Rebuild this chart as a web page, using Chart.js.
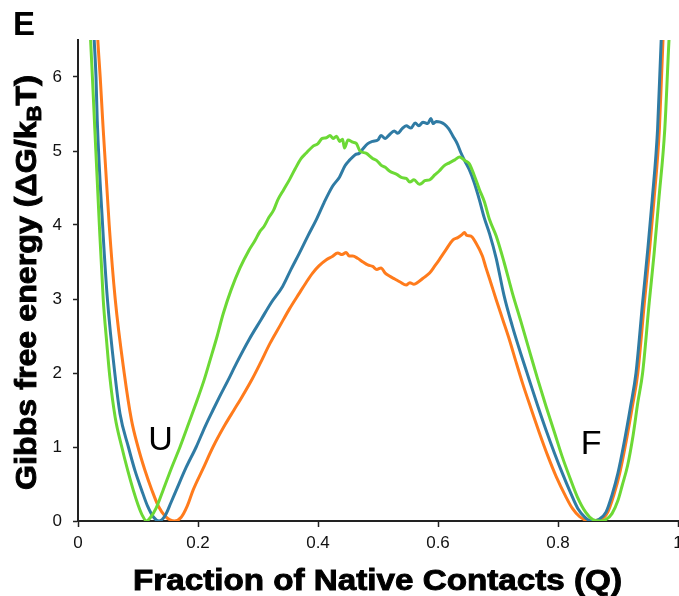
<!DOCTYPE html>
<html>
<head>
<meta charset="utf-8">
<title>Free energy profile</title>
<script src="https://cdn.jsdelivr.net/npm/chart.js@4/dist/chart.umd.min.js"></script>
<style>
    html, body { margin: 0; padding: 0; background: #fff; overflow: hidden; }
    #wrap { width: 700px; height: 596px; }
</style>
</head>
<body>
<div id="wrap"><canvas id="chart" width="700" height="596"></canvas></div>
<script>
// Axis ticks
const xTicks = [0, 0.2, 0.4, 0.6, 0.8, 1];
const yTicks = [0, 1, 2, 3, 4, 5, 6];

// Free energy profiles, Q vs dG/kBT
const greenQ = [0.018, 0.021, 0.024, 0.028, 0.035, 0.042, 0.048, 0.053, 0.062, 0.073, 0.083, 0.092, 0.100, 0.107, 0.114,
    0.121, 0.130, 0.142, 0.156, 0.170, 0.185, 0.198, 0.210, 0.220, 0.232, 0.242, 0.255, 0.270, 0.285, 0.295, 0.303,
    0.310, 0.318, 0.326, 0.333, 0.343, 0.353, 0.362, 0.372, 0.380, 0.391, 0.400, 0.407, 0.414, 0.420, 0.425, 0.431,
    0.436, 0.441, 0.444, 0.450, 0.458, 0.464, 0.470, 0.480, 0.491, 0.498, 0.505, 0.512, 0.519, 0.532, 0.540, 0.547,
    0.553, 0.560, 0.569, 0.574, 0.578, 0.586, 0.595, 0.602, 0.610, 0.619, 0.628, 0.636, 0.645, 0.652, 0.660, 0.669,
    0.677, 0.686, 0.697, 0.710, 0.724, 0.738, 0.752, 0.766, 0.780, 0.794, 0.807, 0.820, 0.832, 0.846, 0.858, 0.871,
    0.880, 0.890, 0.900, 0.907, 0.916, 0.925, 0.933, 0.941, 0.952, 0.960, 0.968, 0.978, 0.985, 0.990];
const greenG = [7.0, 6.5, 6.0, 5.3, 4.1, 3.0, 2.4, 1.95, 1.4, 1.0, 0.68, 0.42, 0.22, 0.08, 0.0,
    0.05, 0.17, 0.42, 0.72, 1.0, 1.33, 1.62, 1.9, 2.17, 2.5, 2.8, 3.12, 3.42, 3.66, 3.79, 3.91,
    3.98, 4.1, 4.2, 4.34, 4.48, 4.62, 4.76, 4.9, 4.97, 5.06, 5.1, 5.17, 5.18, 5.21, 5.17, 5.2,
    5.13, 5.16, 5.04, 5.15, 5.12, 5.1, 5.0, 4.97, 4.9, 4.87, 4.81, 4.78, 4.73, 4.68, 4.64, 4.63,
    4.58, 4.61, 4.55, 4.57, 4.6, 4.61, 4.68, 4.73, 4.8, 4.84, 4.88, 4.92, 4.87, 4.83, 4.68, 4.48,
    4.32, 4.07, 3.85, 3.5, 3.08, 2.7, 2.31, 1.92, 1.55, 1.2, 0.87, 0.58, 0.33, 0.12, 0.02, 0.0,
    0.02, 0.1, 0.28, 0.48, 0.75, 1.15, 1.6, 2.0, 2.95, 3.6, 4.34, 5.3, 6.5, 7.2];

const blueQ = [0.024, 0.027, 0.030, 0.032, 0.041, 0.049, 0.062, 0.070, 0.084, 0.095, 0.106, 0.116, 0.126, 0.135,
    0.145, 0.155, 0.164, 0.180, 0.197, 0.212, 0.225, 0.236, 0.250, 0.264, 0.285, 0.305, 0.322, 0.341, 0.355, 0.369,
    0.383, 0.397, 0.410, 0.424, 0.436, 0.445, 0.453, 0.462, 0.469, 0.475, 0.483, 0.491, 0.500, 0.505, 0.512, 0.519,
    0.527, 0.533, 0.540, 0.547, 0.555, 0.562, 0.568, 0.575, 0.583, 0.588, 0.592, 0.597, 0.604, 0.611, 0.618, 0.625,
    0.632, 0.638, 0.645, 0.652, 0.660, 0.669, 0.677, 0.686, 0.697, 0.710, 0.724, 0.738, 0.752, 0.766, 0.780, 0.794,
    0.807, 0.821, 0.833, 0.845, 0.856, 0.868, 0.880, 0.890, 0.900, 0.910, 0.921, 0.930, 0.941, 0.950, 0.957, 0.966,
    0.972, 0.977];
const blueG = [7.0, 6.5, 6.0, 5.43, 4.0, 3.0, 1.95, 1.45, 1.0, 0.68, 0.42, 0.2, 0.05, 0.0,
    0.07, 0.25, 0.42, 0.72, 1.0, 1.28, 1.5, 1.68, 1.9, 2.13, 2.45, 2.72, 2.95, 3.17, 3.4, 3.62,
    3.85, 4.07, 4.3, 4.52, 4.65, 4.8, 4.88, 4.95, 4.97, 5.03, 5.1, 5.13, 5.15, 5.21, 5.17, 5.22,
    5.27, 5.24, 5.3, 5.34, 5.31, 5.38, 5.34, 5.39, 5.37, 5.44, 5.37, 5.4, 5.39, 5.36, 5.3, 5.2,
    5.1, 4.98, 4.86, 4.75, 4.58, 4.34, 4.1, 3.88, 3.55, 3.05, 2.63, 2.26, 1.91, 1.56, 1.23, 0.92,
    0.65, 0.38, 0.17, 0.05, 0.0, 0.02, 0.12, 0.35, 0.65, 1.05, 1.55, 2.0, 2.95, 3.7, 4.34, 5.3,
    6.5, 7.2];

const orangeQ = [0.030, 0.033, 0.037, 0.041, 0.052, 0.062, 0.077, 0.089, 0.100, 0.111, 0.123, 0.134, 0.146,
    0.161, 0.172, 0.182, 0.192, 0.208, 0.225, 0.245, 0.260, 0.272, 0.291, 0.303, 0.320, 0.336, 0.352, 0.369, 0.380,
    0.391, 0.402, 0.414, 0.423, 0.433, 0.440, 0.447, 0.452, 0.458, 0.466, 0.475, 0.483, 0.491, 0.498, 0.505, 0.512,
    0.519, 0.528, 0.537, 0.547, 0.553, 0.560, 0.567, 0.575, 0.586, 0.595, 0.602, 0.612, 0.625, 0.633, 0.640, 0.644,
    0.648, 0.655, 0.663, 0.674, 0.680, 0.688, 0.697, 0.708, 0.719, 0.730, 0.741, 0.755, 0.769, 0.783, 0.797, 0.813,
    0.824, 0.836, 0.852, 0.871, 0.883, 0.893, 0.903, 0.913, 0.924, 0.933, 0.944, 0.953, 0.960, 0.969, 0.975, 0.980];
const orangeG = [7.0, 6.5, 6.0, 5.43, 4.0, 3.0, 2.0, 1.37, 1.0, 0.7, 0.42, 0.2, 0.06,
    0.0, 0.05, 0.2, 0.42, 0.7, 1.0, 1.3, 1.5, 1.66, 1.93, 2.12, 2.4, 2.63, 2.86, 3.08, 3.22,
    3.35, 3.45, 3.53, 3.57, 3.62, 3.6, 3.63, 3.58, 3.58, 3.55, 3.5, 3.46, 3.44, 3.4, 3.42, 3.35,
    3.31, 3.27, 3.23, 3.19, 3.22, 3.2, 3.23, 3.28, 3.35, 3.45, 3.53, 3.65, 3.8, 3.83, 3.87, 3.9,
    3.86, 3.85, 3.76, 3.58, 3.42, 3.22, 2.99, 2.72, 2.45, 2.15, 1.86, 1.52, 1.19, 0.88, 0.6, 0.33,
    0.17, 0.06, 0.0, 0.02, 0.12, 0.35, 0.65, 1.05, 1.55, 2.0, 2.95, 3.7, 4.34, 5.3, 6.5, 7.2];

const toPoints = (qs, gs) => qs.map((q, i) => ({ x: q, y: gs[i] }));

const FONT = '"Liberation Sans", Arial, sans-serif';
const INK = '#111';

// Heavy text squeezed/stretched to a given length
function heavyText(ctx, parts, length) {
    let total = 0;
    parts.forEach(p => {
        ctx.font = `bold ${p.size}px ${FONT}`;
        p.w = ctx.measureText(p.text).width;
        total += p.w;
    });
    ctx.scale(length / total, 1);
    let u = -total / 2;
    parts.forEach(p => {
        ctx.font = `bold ${p.size}px ${FONT}`;
        ctx.fillText(p.text, u, p.dy || 0);
        ctx.strokeText(p.text, u, p.dy || 0);
        u += p.w;
    });
}

const labelsPlugin = {
    id: 'labels',
    afterDraw(chart) {
        const ctx = chart.ctx;
        const { x, y } = chart.scales;
        ctx.save();
        ctx.fillStyle = '#000';
        ctx.strokeStyle = '#000';
        ctx.lineWidth = 0.9;
        ctx.textBaseline = 'alphabetic';
        ctx.textAlign = 'left';

        // panel letter
        ctx.font = `bold 33px ${FONT}`;
        ctx.fillText('E', 13, 35);

        // well labels
        ctx.font = `34px ${FONT}`;
        ctx.fillText('U', x.getPixelForValue(0.117), y.getPixelForValue(0.96));
        ctx.fillText('F', x.getPixelForValue(0.838), y.getPixelForValue(0.9));

        // x title
        ctx.save();
        ctx.translate(377.5, 590);
        heavyText(ctx, [{ text: 'Fraction of Native Contacts (Q)', size: 29 }], 489);
        ctx.restore();

        // y title with subscript B
        ctx.save();
        ctx.translate(36, 282.5);
        ctx.rotate(-Math.PI / 2);
        heavyText(ctx, [
            { text: 'Gibbs free energy (\u0394G/k', size: 29 },
            { text: 'B', size: 20, dy: 5 },
            { text: 'T)', size: 29 }
        ], 415);
        ctx.restore();

        ctx.restore();
    }
};

const lineStyle = {
    borderWidth: 3,
    pointRadius: 0,
    fill: false,
    cubicInterpolationMode: 'monotone'
};

new Chart(document.getElementById('chart'), {
    type: 'line',
    data: {
        datasets: [
            { ...lineStyle, data: toPoints(greenQ, greenG), borderColor: '#6cd935' },
            { ...lineStyle, data: toPoints(blueQ, blueG), borderColor: '#2f7ba4' },
            { ...lineStyle, data: toPoints(orangeQ, orangeG), borderColor: '#ff7b1c' }
        ]
    },
    options: {
        responsive: false,
        animation: false,
        layout: { padding: { top: 40, left: 0, right: 22, bottom: 0 } },
        plugins: {
            legend: { display: false },
            tooltip: { enabled: false }
        },
        scales: {
            x: {
                type: 'linear',
                min: 0,
                max: 1,
                afterBuildTicks: s => { s.ticks = xTicks.map(v => ({ value: v })); },
                afterFit: s => { s.height = 75; },
                grid: { drawOnChartArea: false, tickLength: 6, tickColor: '#222', tickWidth: 1.5 },
                border: { color: '#222', width: 2 },
                ticks: { color: INK, font: { family: FONT, size: 17 }, padding: 6, maxRotation: 0,
                    callback: v => String(v) }
            },
            y: {
                min: 0,
                max: 6.5,
                afterBuildTicks: s => { s.ticks = yTicks.map(v => ({ value: v })); },
                afterFit: s => { s.width = 78; },
                grid: { drawOnChartArea: false, tickLength: 5, tickColor: '#222', tickWidth: 1.5 },
                border: { color: '#222', width: 2 },
                ticks: { color: INK, font: { family: FONT, size: 17 }, padding: 11,
                    callback: v => String(v) }
            }
        }
    },
    plugins: [labelsPlugin]
});
</script>
</body>
</html>
